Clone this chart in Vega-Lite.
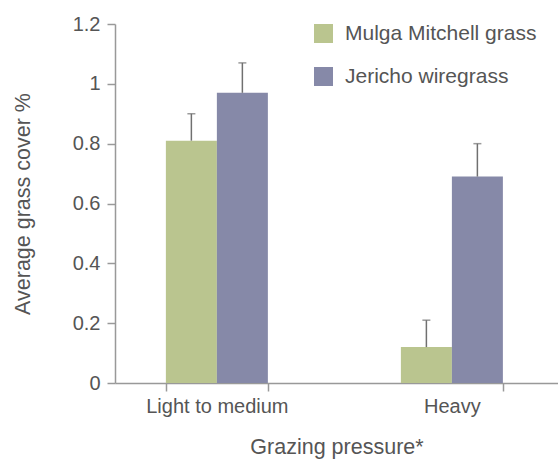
{
  "$schema": "https://vega.github.io/schema/vega-lite/v6.json",
  "autosize": "none",
  "width": 443,
  "height": 359,
  "padding": {"left": 115, "top": 24, "right": 0, "bottom": 81},
  "background": "white",
  "config": {
    "view": {"stroke": null},
    "font": "Liberation Sans",
    "axis": {"grid": false, "labelColor": "#555", "titleColor": "#555", "labelFontSize": 20, "titleFontSize": 21.5, "titleFontWeight": "normal", "domainColor": "#999", "tickColor": "#999", "tickSize": 8, "domainWidth": 1.5, "tickWidth": 1.5},
    "legend": {"labelColor": "#555", "labelFontSize": 21}
  },
  "data": {
    "values": [
      {"pressure": "Light to medium", "species": "Mulga Mitchell grass", "value": 0.81, "upper": 0.9},
      {"pressure": "Light to medium", "species": "Jericho wiregrass", "value": 0.97, "upper": 1.07},
      {"pressure": "Heavy", "species": "Mulga Mitchell grass", "value": 0.12, "upper": 0.21},
      {"pressure": "Heavy", "species": "Jericho wiregrass", "value": 0.69, "upper": 0.8}
    ]
  },
  "encoding": {
    "x": {
      "field": "pressure", "type": "nominal",
      "scale": {"domain": ["Light to medium", "Heavy"], "paddingInner": 0.566, "paddingOuter": 0.2255, "align": 0.48},
      "axis": {"title": "Grazing pressure*", "labelAngle": 0, "tickBand": "extent", "labelPadding": 5, "titlePadding": 20}
    },
    "xOffset": {
      "field": "species", "type": "nominal",
      "scale": {"domain": ["Mulga Mitchell grass", "Jericho wiregrass"], "paddingInner": 0, "paddingOuter": 0}
    }
  },
  "layer": [
    {
      "mark": {"type": "bar"},
      "encoding": {
        "y": {
          "field": "value", "type": "quantitative",
          "scale": {"domain": [0, 1.2], "nice": false},
          "axis": {"title": "Average grass cover %", "values": [0, 0.2, 0.4, 0.6, 0.8, 1, 1.2], "format": "~g", "labelPadding": 7, "titlePadding": 38}
        },
        "color": {
          "field": "species", "type": "nominal",
          "scale": {"domain": ["Mulga Mitchell grass", "Jericho wiregrass"], "range": ["#bac58f", "#8689a8"]},
          "legend": {"title": null, "orient": "none", "legendX": 198, "legendY": -1, "symbolType": "square", "symbolSize": 361, "symbolStrokeWidth": 0, "symbolOpacity": 1, "rowPadding": 21, "labelOffset": 11, "labelLimit": 300, "padding": 0}
        }
      }
    },
    {
      "mark": {"type": "rule", "color": "#707070", "strokeWidth": 1.5},
      "encoding": {
        "y": {"field": "value", "type": "quantitative"},
        "y2": {"field": "upper"}
      }
    },
    {
      "mark": {"type": "tick", "color": "#707070", "size": 8, "thickness": 1.5},
      "encoding": {
        "y": {"field": "upper", "type": "quantitative"}
      }
    }
  ]
}
